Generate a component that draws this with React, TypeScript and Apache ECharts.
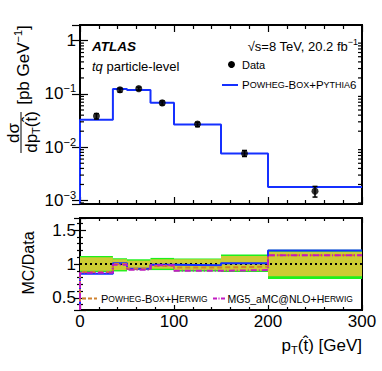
import React, { useEffect, useRef } from 'react';
import * as echarts from 'echarts';

// ---------- data ----------
const binEdges = [0, 35, 50, 75, 100, 150, 200, 300];
const binCenters = [17.5, 42.5, 62.5, 87.5, 125, 175, 250];
const dataValues = [0.0385, 0.12, 0.126, 0.068, 0.0273, 0.0076, 0.0015];
const dataErrUp = [0.0043, 0.0096, 0.0085, 0.0061, 0.0022, 0.0011, 0.00034];
const dataErrDown = [0.0046, 0.012, 0.01, 0.0061, 0.003, 0.0009, 0.00034];
const powhegPythia6 = [0.0329, 0.124, 0.119, 0.0686, 0.0268, 0.00766, 0.00179];

const ratioPowhegPythia6 = [0.855, 1.01, 0.93, 0.99, 0.98, 1.01, 1.2];
const ratioPowhegHerwig = [0.88, 1.0, 0.93, 0.97, 0.95, 0.96, 1.13];
const ratioMG5Herwig = [0.87, 0.99, 0.915, 0.98, 0.9, 0.91, 1.13];

const totalUncUp = [1.12, 1.085, 1.07, 1.09, 1.08, 1.14, 1.21];
const totalUncDown = [0.88, 0.89, 0.91, 0.91, 0.89, 0.88, 0.78];
const statUncUp = [1.1, 1.07, 1.05, 1.07, 1.07, 1.12, 1.18];
const statUncDown = [0.9, 0.91, 0.93, 0.93, 0.91, 0.9, 0.82];

const xMin = 0;
const xMax = 300;
const topYMin = 8.6e-4;
const topYMax = 1.97;
const ratioMin = 0.32;
const ratioMax = 1.68;
const logMinorTicks: number[] = [];
for (let e = -4; e <= 0; e++) {
  for (let k = 2; k <= 9; k++) {
    const v = k * Math.pow(10, e);
    if (v > topYMin && v < topYMax) logMinorTicks.push(v);
  }
}

const FONT = '"Liberation Sans", Arial, Helvetica, sans-serif';
const BLUE = '#1530ff';
const ORANGE = '#d0822e';
const MAGENTA = '#c21bc2';
const GREEN = '#1df01d';
const YELLOW = '#cccc33';

function stepData(edges: number[], vals: number[], floor: number) {
  const d: number[][] = [[edges[0], floor]];
  vals.forEach((v, i) => d.push([edges[i], v]));
  d.push([edges[edges.length - 1], vals[vals.length - 1]]);
  return d;
}

function bandData(lo: number[], hi: number[]) {
  return lo.map((l, i) => [binEdges[i], binEdges[i + 1], l, hi[i]]);
}

const bandRender = (color: string) => (_p: any, api: any) => {
  const a = api.coord([api.value(0), api.value(3)]);
  const b = api.coord([api.value(1), api.value(2)]);
  return {
    type: 'rect',
    shape: { x: a[0], y: a[1], width: b[0] - a[0], height: b[1] - a[1] },
    style: { fill: color },
  };
};

const supRich = {
  sup: { fontSize: 11, lineHeight: 11, verticalAlign: 'top', fontFamily: FONT, color: '#000' },
};

function xAxisCfg(grid: number, pos: 'top' | 'bottom', labels: boolean, major: number, minor: number) {
  return {
    gridIndex: grid,
    type: 'value',
    min: xMin,
    max: xMax,
    interval: 100,
    position: pos,
    axisLine: { show: false },
    axisTick: { show: true, inside: true, length: major, lineStyle: { color: '#000', width: 1.2 } },
    minorTick: { show: true, splitNumber: 5, length: minor, lineStyle: { color: '#000', width: 1.2 } },
    splitLine: { show: false },
    axisLabel: labels
      ? { show: true, fontSize: 17, fontFamily: FONT, color: '#000', margin: 3 }
      : { show: false },
  };
}

export default function App() {
  const ref = useRef<HTMLDivElement>(null);
  useEffect(() => {
    if (!ref.current) return;
    const chart = echarts.init(ref.current, undefined, { renderer: 'svg' });

    const option: any = {
      animation: false,
      backgroundColor: '#fff',
      grid: [
        { left: 80, top: 25, width: 282, height: 179, show: true, borderColor: '#000', borderWidth: 2, backgroundColor: 'transparent', z: 0 },
        { left: 80, top: 218, width: 282, height: 92, show: true, borderColor: '#000', borderWidth: 2, backgroundColor: 'transparent', z: 0 },
      ],
      xAxis: [
        xAxisCfg(0, 'bottom', false, 7, 4),
        xAxisCfg(0, 'top', false, 7, 4),
        xAxisCfg(1, 'bottom', true, 5, 3),
        xAxisCfg(1, 'top', false, 5, 3),
      ],
      yAxis: [
        {
          gridIndex: 0,
          type: 'log',
          logBase: 10,
          min: topYMin,
          max: topYMax,
          position: 'left',
          axisLine: { show: false },
          axisTick: { show: true, inside: true, length: 8, lineStyle: { color: '#000', width: 1.2 } },
          splitLine: { show: false },
          axisLabel: {
            show: true,
            fontSize: 17,
            lineHeight: 22,
            fontFamily: FONT,
            color: '#000',
            margin: 4,
            showMinLabel: false,
            showMaxLabel: false,
            rich: supRich,
            formatter: (v: number) => {
              const l = Math.log10(v);
              const e = Math.round(l);
              if (Math.abs(l - e) > 1e-6) return '';
              if (e === 0) return '1';
              return `10{sup|\u2212${-e}}`;
            },
          },
        },
        {
          gridIndex: 0,
          type: 'log',
          logBase: 10,
          min: topYMin,
          max: topYMax,
          position: 'right',
          axisLine: { show: false },
          axisTick: { show: true, inside: true, length: 8, lineStyle: { color: '#000', width: 1.2 } },
          splitLine: { show: false },
          axisLabel: { show: false },
        },
        {
          gridIndex: 1,
          type: 'value',
          min: ratioMin,
          max: ratioMax,
          splitNumber: 3,
          position: 'left',
          axisLine: { show: false },
          axisTick: { show: true, inside: true, length: 6, lineStyle: { color: '#000', width: 1.2 } },
          minorTick: { show: true, splitNumber: 5, length: 3, lineStyle: { color: '#000', width: 1.2 } },
          splitLine: { show: false },
          axisLabel: {
            show: true,
            fontSize: 17,
            fontFamily: FONT,
            color: '#000',
            margin: 4,
            showMinLabel: false,
            showMaxLabel: false,
            formatter: (v: number) => (Math.abs(v * 2 - Math.round(v * 2)) < 1e-6 ? String(v) : ''),
          },
        },
        {
          gridIndex: 1,
          type: 'value',
          min: ratioMin,
          max: ratioMax,
          splitNumber: 3,
          position: 'right',
          axisLine: { show: false },
          axisTick: { show: true, inside: true, length: 6, lineStyle: { color: '#000', width: 1.2 } },
          minorTick: { show: true, splitNumber: 5, length: 3, lineStyle: { color: '#000', width: 1.2 } },
          splitLine: { show: false },
          axisLabel: { show: false },
        },
      ],
      series: [
        // minor log ticks
        {
          type: 'custom',
          xAxisIndex: 0,
          yAxisIndex: 0,
          data: logMinorTicks.map((v) => [xMin, v]),
          encode: { x: 0, y: 1 },
          silent: true,
          z: 11,
          renderItem: (_p: any, api: any) => {
            const v = api.value(1);
            const l = api.coord([xMin, v]);
            const r = api.coord([xMax, v]);
            return {
              type: 'group',
              children: [
                { type: 'line', shape: { x1: l[0], y1: l[1], x2: l[0] + 4, y2: l[1] }, style: { stroke: '#000', lineWidth: 1.2 } },
                { type: 'line', shape: { x1: r[0], y1: r[1], x2: r[0] - 4, y2: r[1] }, style: { stroke: '#000', lineWidth: 1.2 } },
              ],
            };
          },
        },
        {
          type: 'line',
          name: 'Powheg-Box+Pythia6',
          xAxisIndex: 0,
          yAxisIndex: 0,
          step: 'end',
          data: stepData(binEdges, powhegPythia6, topYMin),
          showSymbol: false,
          lineStyle: { color: BLUE, width: 2 },
          z: 3,
        },
        {
          type: 'custom',
          xAxisIndex: 0,
          yAxisIndex: 0,
          data: binCenters.map((x, i) => [x, dataValues[i] - dataErrDown[i], dataValues[i] + dataErrUp[i]]),
          encode: { x: 0, y: [1, 2] },
          z: 4,
          renderItem: (_p: any, api: any) => {
            const lo = api.coord([api.value(0), api.value(1)]);
            const hi = api.coord([api.value(0), api.value(2)]);
            const st = { stroke: '#000', lineWidth: 1.5 };
            return {
              type: 'group',
              children: [
                { type: 'line', shape: { x1: lo[0], y1: lo[1], x2: hi[0], y2: hi[1] }, style: st },
                { type: 'line', shape: { x1: lo[0] - 2.5, y1: lo[1], x2: lo[0] + 2.5, y2: lo[1] }, style: st },
                { type: 'line', shape: { x1: hi[0] - 2.5, y1: hi[1], x2: hi[0] + 2.5, y2: hi[1] }, style: st },
              ],
            };
          },
        },
        {
          type: 'scatter',
          name: 'Data',
          xAxisIndex: 0,
          yAxisIndex: 0,
          data: binCenters.map((x, i) => [x, dataValues[i]]),
          symbol: 'circle',
          symbolSize: 7,
          itemStyle: { color: '#000' },
          z: 5,
        },
        // ratio panel
        {
          type: 'custom',
          xAxisIndex: 2,
          yAxisIndex: 2,
          data: bandData(totalUncDown, totalUncUp),
          encode: { x: [0, 1], y: [2, 3] },
          renderItem: bandRender(GREEN),
          z: 1,
        },
        {
          type: 'custom',
          xAxisIndex: 2,
          yAxisIndex: 2,
          data: bandData(statUncDown, statUncUp),
          encode: { x: [0, 1], y: [2, 3] },
          renderItem: bandRender(YELLOW),
          z: 1,
        },
        {
          type: 'line',
          xAxisIndex: 2,
          yAxisIndex: 2,
          data: [[xMin, 1], [xMax, 1]],
          showSymbol: false,
          lineStyle: { color: '#000', width: 2, type: [2, 3] },
          z: 2,
        },
        {
          type: 'line',
          xAxisIndex: 2,
          yAxisIndex: 2,
          step: 'end',
          data: stepData(binEdges, ratioPowhegPythia6, ratioMin),
          showSymbol: false,
          lineStyle: { color: BLUE, width: 2 },
          z: 3,
        },
        {
          type: 'line',
          xAxisIndex: 2,
          yAxisIndex: 2,
          step: 'end',
          data: stepData(binEdges, ratioPowhegHerwig, ratioMin),
          showSymbol: false,
          lineStyle: { color: ORANGE, width: 2, type: [5, 3] },
          z: 4,
        },
        {
          type: 'line',
          xAxisIndex: 2,
          yAxisIndex: 2,
          step: 'end',
          data: stepData(binEdges, ratioMG5Herwig, ratioMin),
          showSymbol: false,
          lineStyle: { color: MAGENTA, width: 2, type: [6, 2, 1, 2] },
          z: 5,
        },
      ],
      graphic: {
        elements: [
          {
            type: 'text', x: 92, y: 46.5, z: 20,
            style: { text: 'ATLAS', fontSize: 13.5, fontWeight: 'bold', fontStyle: 'italic', fontFamily: FONT, fill: '#000', align: 'left', verticalAlign: 'middle' },
          },
          {
            type: 'text', x: 92, y: 66.5, z: 20,
            style: {
              text: '{i|tq} particle-level', fontSize: 13, fontFamily: FONT, fill: '#000', align: 'left', verticalAlign: 'middle',
              rich: { i: { fontSize: 13, fontStyle: 'italic', fontFamily: FONT, fill: '#000' } },
            },
          },
          {
            type: 'text', x: 358, y: 46, z: 20,
            style: {
              text: '\u221As=8 TeV, 20.2 fb{sup|\u22121}', fontSize: 13, lineHeight: 18, fontFamily: FONT, fill: '#000', align: 'right', verticalAlign: 'middle',
              rich: { sup: { fontSize: 9, lineHeight: 9, verticalAlign: 'top', fontFamily: FONT, fill: '#000' } },
            },
          },
          { type: 'circle', x: 231.5, y: 64.5, z: 20, shape: { cx: 0, cy: 0, r: 3.5 }, style: { fill: '#000' } },
          {
            type: 'text', x: 242, y: 65, z: 20,
            style: { text: 'Data', fontSize: 11, fontFamily: FONT, fill: '#000', align: 'left', verticalAlign: 'middle' },
          },
          { type: 'line', z: 20, shape: { x1: 222, y1: 85, x2: 238, y2: 85 }, style: { stroke: BLUE, lineWidth: 2 } },
          {
            type: 'text', x: 242, y: 85, z: 20,
            style: {
              text: 'P{s|OWHEG}-B{s|OX}+P{s|YTHIA}6', fontSize: 11.5, fontFamily: FONT, fill: '#000', align: 'left', verticalAlign: 'middle',
              rich: { s: { fontSize: 9, fontFamily: FONT, fill: '#000' } },
            },
          },
          // y title (top)
          {
            type: 'text', x: 13, y: 133, rotation: Math.PI / 2, z: 20,
            style: { text: 'd\u03C3', fontSize: 17, fontFamily: FONT, fill: '#000', align: 'center', verticalAlign: 'middle' },
          },
          { type: 'line', z: 20, shape: { x1: 21, y1: 112, x2: 21, y2: 153 }, style: { stroke: '#000', lineWidth: 1 } },
          {
            type: 'text', x: 31, y: 132, rotation: Math.PI / 2, z: 20,
            style: {
              text: 'dp{sub|T}(t\u0302)', fontSize: 17, lineHeight: 20, fontFamily: FONT, fill: '#000', align: 'center', verticalAlign: 'middle',
              rich: { sub: { fontSize: 11, lineHeight: 11, verticalAlign: 'bottom', fontFamily: FONT, fill: '#000' } },
            },
          },
          {
            type: 'text', x: 23, y: 65, rotation: Math.PI / 2, z: 20,
            style: {
              text: '[pb GeV{sup|\u22121}]', fontSize: 17, lineHeight: 22, fontFamily: FONT, fill: '#000', align: 'center', verticalAlign: 'middle',
              rich: { sup: { fontSize: 11, lineHeight: 11, verticalAlign: 'top', fontFamily: FONT, fill: '#000' } },
            },
          },
          // y title (ratio)
          {
            type: 'text', x: 28, y: 263, rotation: Math.PI / 2, z: 20,
            style: { text: 'MC/Data', fontSize: 16, fontFamily: FONT, fill: '#000', align: 'center', verticalAlign: 'middle' },
          },
          // x title
          {
            type: 'text', x: 362, y: 345, z: 20,
            style: {
              text: 'p{sub|T}(t\u0302) [GeV]', fontSize: 17, lineHeight: 20, fontFamily: FONT, fill: '#000', align: 'right', verticalAlign: 'middle',
              rich: { sub: { fontSize: 11, lineHeight: 11, verticalAlign: 'bottom', fontFamily: FONT, fill: '#000' } },
            },
          },
          // ratio legend
          { type: 'line', z: 20, shape: { x1: 82, y1: 298.5, x2: 97, y2: 298.5 }, style: { stroke: ORANGE, lineWidth: 2, lineDash: [4, 2] } },
          {
            type: 'text', x: 101, y: 298.5, z: 20,
            style: {
              text: 'P{s|OWHEG}-B{s|OX}+H{s|ERWIG}', fontSize: 11, fontFamily: FONT, fill: '#000', align: 'left', verticalAlign: 'middle',
              rich: { s: { fontSize: 8.5, fontFamily: FONT, fill: '#000' } },
            },
          },
          { type: 'line', z: 20, shape: { x1: 213, y1: 298.5, x2: 225, y2: 298.5 }, style: { stroke: MAGENTA, lineWidth: 2, lineDash: [4, 1.5, 1, 1.5] } },
          {
            type: 'text', x: 227.5, y: 298.5, z: 20,
            style: {
              text: 'MG5_aMC@NLO+H{s|ERWIG}', fontSize: 10.5, fontFamily: FONT, fill: '#000', align: 'left', verticalAlign: 'middle',
              rich: { s: { fontSize: 8.5, fontFamily: FONT, fill: '#000' } },
            },
          },
        ],
      },
    };

    chart.setOption(option);
    return () => chart.dispose();
  }, []);

  return (
    <div
      ref={ref}
      style={{ position: 'absolute', left: 0, top: 0, width: 382, height: 371, background: '#fff' }}
    />
  );
}
